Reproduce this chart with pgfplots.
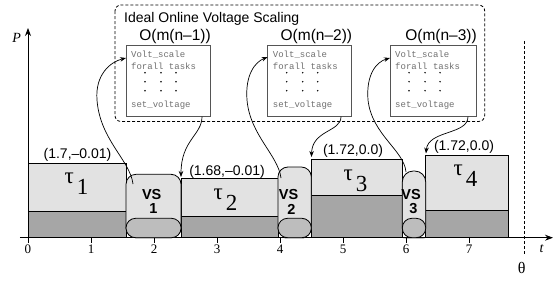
\documentclass[border=0pt]{standalone}
\usepackage{fontspec}
\setmainfont{Liberation Serif}
\setsansfont{Liberation Sans}
\setmonofont{Liberation Mono}
\usepackage{pgfplots}
\pgfplotsset{compat=1.18}
\usetikzlibrary{arrows.meta}
\definecolor{light}{HTML}{E2E2E2}
\definecolor{dark}{HTML}{A6A6A6}
\definecolor{caps}{HTML}{BDBDBD}
\definecolor{boxline}{HTML}{555555}
\definecolor{code}{HTML}{707070}
\newcommand\sz[1]{\fontsize{#1}{#1}\selectfont}
\tikzset{arr/.style={line width=0.7pt, -{Stealth[length=6pt,width=4.5pt]}}}
\begin{document}
\begin{tikzpicture}
\begin{axis}[
  x=63pt, y=100pt,
  xmin=-0.127, xmax=8.333, ymin=0, ymax=2.097,
  enlargelimits=false,
  axis x line*=middle, axis y line*=middle,
  axis line style={line width=0.9pt, -{Stealth[length=8pt,width=6pt]}},
  xtick={0,1,...,7}, ytick=\empty,
  hide obscured x ticks=false,
  tick align=outside, major tick length=5pt,
  x tick style={black, line width=0.7pt},
  xticklabel style={font=\sz{13}, inner sep=2pt},
  /pgf/number format/assume math mode=true,
  clip=false,
]
% task bars (full height, light)
\addplot[mark=none, fill=light, draw=black, line width=0.8pt] coordinates {(0,0) (0,0.744) (1.556,0.744) (1.556,0)} -- cycle;
\addplot[mark=none, fill=light, draw=black, line width=0.8pt] coordinates {(2.429,0) (2.429,0.590) (3.968,0.590) (3.968,0)} -- cycle;
\addplot[mark=none, fill=light, draw=black, line width=0.8pt] coordinates {(4.497,0) (4.497,0.784) (5.941,0.784) (5.941,0)} -- cycle;
\addplot[mark=none, fill=light, draw=black, line width=0.8pt] coordinates {(6.313,0) (6.313,0.824) (7.630,0.824) (7.630,0)} -- cycle;
% task bars (dark lower part)
\addplot[mark=none, fill=dark, draw=black, line width=0.8pt] coordinates {(0,0) (0,0.267) (1.556,0.267) (1.556,0)} -- cycle;
\addplot[mark=none, fill=dark, draw=black, line width=0.8pt] coordinates {(2.429,0) (2.429,0.210) (3.968,0.210) (3.968,0)} -- cycle;
\addplot[mark=none, fill=dark, draw=black, line width=0.8pt] coordinates {(4.497,0) (4.497,0.427) (5.941,0.427) (5.941,0)} -- cycle;
\addplot[mark=none, fill=dark, draw=black, line width=0.8pt] coordinates {(6.313,0) (6.313,0.274) (7.630,0.274) (7.630,0)} -- cycle;
% voltage scaling blocks
\addplot[mark=none, fill=light, draw=black, line width=0.8pt, rounded corners=10pt] coordinates {(1.99,0) (2.429,0) (2.429,0.634) (1.556,0.634) (1.556,0)} -- cycle;
\addplot[mark=none, fill=light, draw=black, line width=0.8pt, rounded corners=10pt] coordinates {(4.23,0) (4.497,0) (4.497,0.707) (3.968,0.707) (3.968,0)} -- cycle;
\addplot[mark=none, fill=light, draw=black, line width=0.8pt, rounded corners=11pt] coordinates {(6.127,0) (6.313,0) (6.313,0.667) (5.941,0.667) (5.941,0)} -- cycle;
\addplot[mark=none, fill=caps, draw=black, line width=0.8pt, rounded corners=9.5pt] coordinates {(1.99,0) (2.429,0) (2.429,0.194) (1.556,0.194) (1.556,0)} -- cycle;
\addplot[mark=none, fill=caps, draw=black, line width=0.8pt, rounded corners=9.5pt] coordinates {(4.23,0) (4.497,0) (4.497,0.194) (3.968,0.194) (3.968,0)} -- cycle;
\addplot[mark=none, fill=caps, draw=black, line width=0.8pt, rounded corners=9.5pt] coordinates {(6.127,0) (6.313,0) (6.313,0.194) (5.941,0.194) (5.941,0)} -- cycle;
\coordinate (pxo) at (axis cs:-0.44444,2.377);
\end{axis}
\begin{scope}[shift={(pxo)}, x=1pt, y=-1pt]
  % dashed frame
  \draw[line width=0.8pt, dash pattern=on 3pt off 2pt, rounded corners=6pt] (115,5) rectangle (484.7,121.5);
  \node[anchor=base west, inner sep=0pt, font=\sffamily\sz{14}] at (124,22) {Ideal Online Voltage Scaling};
  \foreach \bx/\br/\k in {126/210/1, 267.7/351.3/2, 390/476/3} {
    \draw[boxline, fill=white, line width=1pt] (\bx,45.7) rectangle (\br,116.7);
    \node[anchor=east, inner sep=0pt, font=\sffamily\sz{15.5}] at (\br+1,36) {O(m(n–\k))};
    \node[anchor=west, inner sep=0pt, font=\ttfamily\sz{9}, text=code] at (\bx+5,55) {Volt\_scale};
    \node[anchor=west, inner sep=0pt, font=\ttfamily\sz{9}, text=code] at (\bx+5,66) {forall tasks};
    \node[anchor=west, inner sep=0pt, font=\ttfamily\sz{9}, text=code] at (\bx+5,105) {set\_voltage};
    \foreach \dx in {19,35,50} {
      \foreach \dy in {72.7,81.7,90.7} {
        \fill (\bx+\dx,\dy) circle (0.8pt);
      }
    }
  }
  % theta line
  \draw[line width=0.7pt, dash pattern=on 3pt off 2pt] (524,41) -- (524,254);
  \node[font=\sz{16}] at (521.7,268) {θ};
  \node[font=\itshape\sz{14}] at (541.5,249) {t};
  \node[font=\itshape\sz{14}] at (16.7,38) {P};
  % value annotations
  \node[font=\sffamily\sz{14}, inner sep=0pt] at (77.5,154.5) {(1.7,–0.01)};
  \node[font=\sffamily\sz{14}, inner sep=0pt] at (227,171.5) {(1.68,–0.01)};
  \node[font=\sffamily\sz{14}, inner sep=0pt] at (353,151) {(1.72,0.0)};
  \node[font=\sffamily\sz{14}, inner sep=0pt] at (464,147) {(1.72,0.0)};
  % task labels
  \node[anchor=north, inner sep=0pt, font=\sz{23}] at (76.5,173) {τ\hspace{3pt}\raisebox{-11pt}{1}};
  \node[anchor=north, inner sep=0pt, font=\sz{23}] at (225.5,188.5) {τ\hspace{3pt}\raisebox{-11pt}{2}};
  \node[anchor=north, inner sep=0pt, font=\sz{23}] at (355.5,169.3) {τ\hspace{3pt}\raisebox{-11pt}{3}};
  \node[anchor=north, inner sep=0pt, font=\sz{23}] at (465.5,165) {τ\hspace{3pt}\raisebox{-11pt}{4}};
  % VS labels
  \foreach \cx/\dx/\k in {151.7/153.3/1, 288.5/291.5/2, 411/413.3/3} {
    \node[font=\sffamily\bfseries\sz{14.5}, inner sep=0pt] at (\cx,194.3) {VS};
    \node[font=\sffamily\bfseries\sz{14.5}, inner sep=0pt] at (\dx,209) {\k};
  }
  % arrows
  \draw[arr] (133,184) .. controls (130,160) and (100,140) .. (97,100) .. controls (95,75) and (110,62) .. (126,58);
  \draw[arr] (202,116.7) .. controls (202,135) and (181,140) .. (181,177);
  \draw[arr] (281,178) .. controls (278,155) and (250,135) .. (247,100) .. controls (245,75) and (255,62) .. (267.7,57);
  \draw[arr] (341,116.7) .. controls (341,132) and (312,130) .. (311.5,157);
  \draw[arr] (406,172) .. controls (404,150) and (372,135) .. (368,100) .. controls (366,75) and (376,62) .. (390,58);
  \draw[arr] (468,116.7) .. controls (468,135) and (428,130) .. (426,153.5);
\end{scope}
\pgfresetboundingbox
\path[use as bounding box] (pxo) rectangle ([xshift=558pt,yshift=-282pt]pxo);
\end{tikzpicture}
\end{document}
